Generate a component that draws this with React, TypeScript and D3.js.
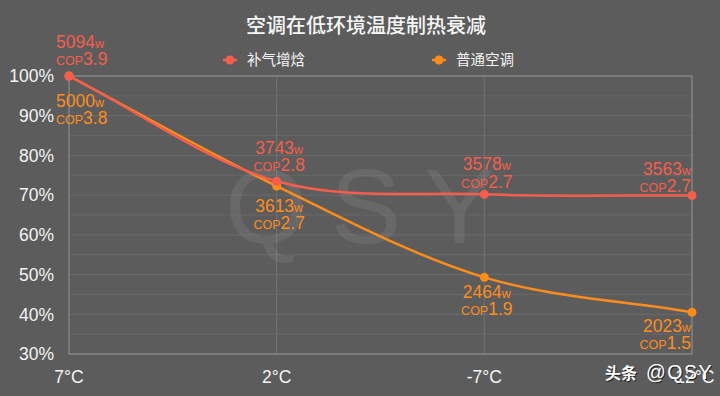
import React from "react";
import * as d3 from "d3";

const categories = ["7°C", "2°C", "-7°C", "-12°C"];
const seriesNames = ["补气增焓", "普通空调"];
// percentage of rated heating output
const evi = [100, 73.5, 70.2, 69.9];
const normal = [100, 72.3, 49.3, 40.5];
const eviWatts = ["5094", "3743", "3578", "3563"];
const eviCop = ["3.9", "2.8", "2.7", "2.7"];
const normalWatts = ["5000", "3613", "2464", "2023"];
const normalCop = ["3.8", "2.7", "1.9", "1.5"];
const yTicks = [30, 40, 50, 60, 70, 80, 90, 100];
const yMinor = [35, 45, 55, 65, 75, 85, 95];

// label layout (pixel offsets from each point, styling only)
const RED_LABEL_DY = [-11, -10, -6.5, -3.5];
const ORANGE_LABEL_DY = [30.5, 26, 21, 19.5];

const W = 720, H = 396;
const M = { left: 69, right: 692, top: 76, bottom: 354 };
const RED = "#f55e4d";
const ORANGE = "#fc8c1c";
const BG = "#5c5c5c";
const LATIN = "'Liberation Sans', Arial, Helvetica, sans-serif";
const CJK = "'Noto Sans CJK SC', 'Liberation Sans', sans-serif";

// spline with tension (Chart.js style)
function splinePath(pts: [number, number][], t = 0.33) {
  const n = pts.length;
  const cps: { prev: [number, number]; next: [number, number] }[] = [];
  for (let i = 0; i < n; i++) {
    const p0 = pts[Math.max(0, i - 1)];
    const p1 = pts[i];
    const p2 = pts[Math.min(n - 1, i + 1)];
    const d01 = Math.hypot(p1[0] - p0[0], p1[1] - p0[1]);
    const d12 = Math.hypot(p2[0] - p1[0], p2[1] - p1[1]);
    let s01 = d01 / (d01 + d12);
    let s12 = d12 / (d01 + d12);
    if (!isFinite(s01)) s01 = 0;
    if (!isFinite(s12)) s12 = 0;
    const fa = t * s01;
    const fb = t * s12;
    cps.push({
      prev: [p1[0] - fa * (p2[0] - p0[0]), p1[1] - fa * (p2[1] - p0[1])],
      next: [p1[0] + fb * (p2[0] - p0[0]), p1[1] + fb * (p2[1] - p0[1])],
    });
  }
  const p = d3.path();
  p.moveTo(pts[0][0], pts[0][1]);
  for (let i = 1; i < n; i++) {
    const a = cps[i - 1].next;
    const b = cps[i].prev;
    p.bezierCurveTo(a[0], a[1], b[0], b[1], pts[i][0], pts[i][1]);
  }
  return p.toString();
}

export default function App() {
  const x = d3.scalePoint<string>().domain(categories).range([M.left, M.right]);
  const y = d3.scaleLinear().domain([30, 100]).range([M.bottom, M.top]);
  const toPts = (vals: number[]) =>
    vals.map((v, i) => [x(categories[i]) as number, y(v)] as [number, number]);

  const labelX = (i: number) => {
    const px = x(categories[i]) as number;
    if (i === 0) return { x: px - 13, anchor: "start" };
    if (i === categories.length - 1) return { x: px - 1, anchor: "end" };
    return { x: px + 2.5, anchor: "middle" };
  };

  const renderLabels = (
    vals: number[],
    watts: string[],
    cops: string[],
    color: string,
    above: boolean
  ) =>
    vals.map((v, i) => {
      const py = y(v);
      const lx = labelX(i);
      const b2 = above ? py + RED_LABEL_DY[i] : py + ORANGE_LABEL_DY[i] + 17;
      const b1 = above ? b2 - 17.5 : py + ORANGE_LABEL_DY[i];
      return (
        <g key={i} fill={color} fontFamily={LATIN} textAnchor={lx.anchor}>
          <text x={lx.x} y={b1}>
            <tspan fontSize={17.5}>{watts[i]}</tspan>
            <tspan fontSize={12.5}>w</tspan>
          </text>
          <text x={lx.x} y={b2}>
            <tspan fontSize={12.5}>COP</tspan>
            <tspan fontSize={17.5}>{cops[i]}</tspan>
          </text>
        </g>
      );
    });

  return (
    <div style={{ position: "fixed", left: 0, top: 0, width: W, height: H }}>
      <svg width={W} height={H} style={{ display: "block" }}>
        <rect width={W} height={H} fill={BG} />
        {yMinor.map((t) => (
          <line key={"m" + t} x1={M.left} x2={M.right} y1={y(t)} y2={y(t)} stroke="#676767" strokeWidth={1} />
        ))}
        {yTicks.map((t) => (
          <line key={"g" + t} x1={M.left} x2={M.right} y1={y(t)} y2={y(t)} stroke="#6b6b6b" strokeWidth={1} />
        ))}
        {categories.slice(1, -1).map((c) => (
          <line key={c} x1={x(c)} x2={x(c)} y1={M.top} y2={M.bottom} stroke="#727272" strokeWidth={1} />
        ))}
        {/* watermark */}
        <text
          x={225}
          y={243}
          fontFamily={LATIN}
          fontSize={106}
          letterSpacing={23}
          fill="#ffffff"
          fillOpacity={0.075}
        >
          QSY
        </text>
        <rect x={M.left} y={M.top} width={M.right - M.left} height={M.bottom - M.top} fill="none" stroke="#8c8c8c" strokeWidth={1.2} />
        {yTicks.map((t) => (
          <text key={"y" + t} x={54} y={y(t)} dy="0.36em" textAnchor="end" fill="#f4f4f4" fontFamily={LATIN} fontSize={17.5}>
            {t}%
          </text>
        ))}
        {categories.map((c) => (
          <text key={"x" + c} x={x(c)} y={383} textAnchor="middle" fill="#f4f4f4" fontFamily={LATIN} fontSize={17.5}>
            {c}
          </text>
        ))}
        <path d={splinePath(toPts(normal))} fill="none" stroke={ORANGE} strokeWidth={2.5} />
        {normal.map((v, i) => (
          <circle key={"o" + i} cx={x(categories[i])} cy={y(v)} r={4.5} fill={ORANGE} />
        ))}
        <path d={splinePath(toPts(evi))} fill="none" stroke={RED} strokeWidth={2.5} />
        {evi.map((v, i) => (
          <circle key={"r" + i} cx={x(categories[i])} cy={y(v)} r={4.5} fill={RED} />
        ))}
        {renderLabels(normal, normalWatts, normalCop, ORANGE, false)}
        {renderLabels(evi, eviWatts, eviCop, RED, true)}
        <text x={366} y={33} textAnchor="middle" fill="#f6f6f6" fontFamily={CJK} fontSize={20} fontWeight={500}>
          空调在低环境温度制热衰减
        </text>
        {seriesNames.map((n, i) => {
          const lx = i === 0 ? 223 : 432;
          const col = i === 0 ? RED : ORANGE;
          return (
            <g key={n}>
              <line x1={lx} x2={lx + 14} y1={60} y2={60} stroke={col} strokeWidth={2.5} />
              <circle cx={lx + 7} cy={60} r={4.5} fill={col} />
              <text x={lx + 24} y={65} fill="#f4f4f4" fontFamily={CJK} fontSize={14.5}>
                {n}
              </text>
            </g>
          );
        })}
        {/* corner watermark */}
        {[
          { dx: 1, dy: 1, fill: "#1e1e1e" },
          { dx: 0, dy: 0, fill: "#ffffff" },
        ].map((s, k) => (
          <g key={k} transform={`translate(${s.dx},${s.dy})`} fill={s.fill}>
            <text x={605} y={379} fontFamily={CJK} fontSize={16} fontWeight={700}>
              头条
            </text>
            <text x={646} y={379} fontFamily={LATIN} fontSize={19.5} letterSpacing={1.5}>
              @QSY
            </text>
          </g>
        ))}
      </svg>
    </div>
  );
}
